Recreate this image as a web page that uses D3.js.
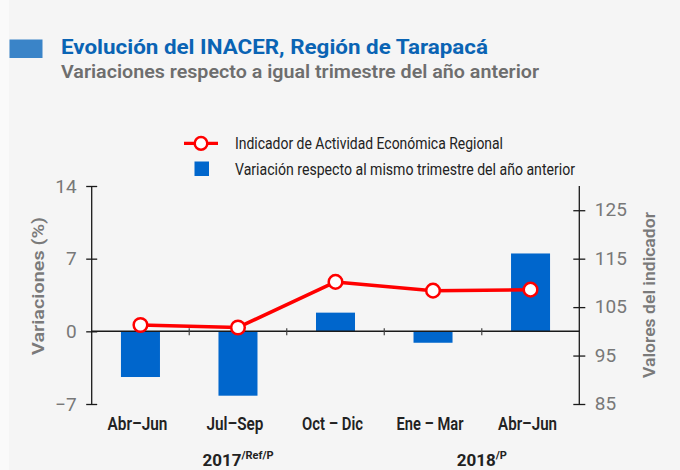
<!DOCTYPE html>
<html>
<head>
<meta charset="utf-8">
<script src="https://cdn.jsdelivr.net/npm/d3@7/dist/d3.min.js"></script>
<style>
  html, body { margin: 0; padding: 0; background: #f5f5f5; }
  svg { display: block; font-family: Roboto, "Noto Sans", sans-serif; }
</style>
</head>
<body>
<svg id="chart" width="680" height="470"></svg>
<script>
// ---- data ----
const categories = ["Abr–Jun", "Jul–Sep", "Oct – Dic", "Ene – Mar", "Abr–Jun"];
const variation = [-4.4, -6.2, 1.8, -1.1, 7.5];          // % (bars, left axis)
const indicator = [101.3, 100.8, 110.2, 108.4, 108.6];   // index (line, right axis)
const leftTicks = [-7, 0, 7, 14];
const rightTicks = [85, 95, 105, 115, 125];
const yearLabels = ["2017", "2018"];
const yearSups = ["/Ref/P", "/P"];
const yearFirstCat = [0, 3];
const yearLastCat = [2, 4];
const seriesNames = ["Indicador de Actividad Económica Regional", "Variación respecto al mismo trimestre del año anterior"];
const titleText = "Evolución del INACER, Región de Tarapacá";
const subtitleText = "Variaciones respecto a igual trimestre del año anterior";
const leftAxisTitle = "Variaciones (%)";
const rightAxisTitle = "Valores del indicador";

// ---- layout ----
const svg = d3.select("#chart");
const W = 680, H = 470;
const plotL = 91.7, plotR = 579.3, plotT = 186, plotB = 404;
const barColor = "#0066cc", lineColor = "#ff0000";

svg.append("rect").attr("width", W).attr("height", H).attr("fill", "#f5f5f5");
svg.append("rect").attr("width", 9).attr("height", H).attr("fill", "#fafafa");

const x = d3.scaleBand().domain(d3.range(categories.length)).range([plotL, plotR])
  .paddingInner(0.6).paddingOuter(0.3);
const yL = d3.scaleLinear().domain([-7, 14]).range([plotB, plotT]);
const yR = d3.scaleLinear().domain([85, 130]).range([plotB, plotT]);
const cx = i => x(i) + x.bandwidth() / 2;

function fit(sel, w) { sel.attr("textLength", w).attr("lengthAdjust", "spacingAndGlyphs"); return sel; }

// ---- title ----
svg.append("rect").attr("x", 9.5).attr("y", 39.5).attr("width", 33).attr("height", 18.5).attr("fill", "#3a84c8");
fit(svg.append("text").attr("x", 61).attr("y", 54).attr("font-size", 21).attr("font-weight", 700)
  .attr("fill", "#0a64b4").text(titleText), 427);
fit(svg.append("text").attr("x", 61).attr("y", 78).attr("font-size", 19).attr("font-weight", 600)
  .attr("fill", "#6e6e6e").text(subtitleText), 478);

// ---- legend ----
const lg = svg.append("g");
lg.append("line").attr("x1", 184).attr("x2", 218).attr("y1", 143.4).attr("y2", 143.4)
  .attr("stroke", lineColor).attr("stroke-width", 3.2);
lg.append("circle").attr("cx", 201).attr("cy", 143.4).attr("r", 6.3)
  .attr("fill", "#fff").attr("stroke", lineColor).attr("stroke-width", 2.5);
fit(lg.append("text").attr("x", 235).attr("y", 149.3).attr("font-size", 17).attr("fill", "#222").text(seriesNames[0]), 268);
lg.append("rect").attr("x", 194.5).attr("y", 161.5).attr("width", 14.5).attr("height", 14.5).attr("fill", barColor);
fit(lg.append("text").attr("x", 235).attr("y", 174.5).attr("font-size", 17).attr("fill", "#222").text(seriesNames[1]), 340);

// ---- bars ----
svg.append("g").selectAll("rect").data(variation).join("rect")
  .attr("x", (d, i) => x(i))
  .attr("width", x.bandwidth())
  .attr("y", d => yL(Math.max(0, d)))
  .attr("height", d => Math.abs(yL(d) - yL(0)))
  .attr("fill", barColor);

// ---- axes ----
const axisColor = "#1a1a1a";
// left axis
const gL = svg.append("g").attr("transform", `translate(${plotL},0)`)
  .call(d3.axisLeft(yL).tickValues(leftTicks).tickSize(0).tickFormat(d3.format("d")));
gL.select(".domain").remove();
gL.append("line").attr("y1", plotT).attr("y2", plotB).attr("stroke", axisColor).attr("stroke-width", 1.3);
gL.selectAll(".tick").append("line").attr("x1", -5.5).attr("x2", 5.5).attr("stroke", axisColor).attr("stroke-width", 1.3);
gL.selectAll(".tick text").attr("x", -15).attr("dy", "0.32em").attr("font-size", 19)
  .attr("fill", "#787878").attr("font-family", "Roboto, sans-serif");

// right axis
const gR = svg.append("g").attr("transform", `translate(${plotR},0)`)
  .call(d3.axisRight(yR).tickValues(rightTicks).tickSize(0).tickFormat(d3.format("d")));
gR.select(".domain").remove();
gR.append("line").attr("y1", plotT).attr("y2", plotB).attr("stroke", axisColor).attr("stroke-width", 1.3);
gR.selectAll(".tick").append("line").attr("x1", -6).attr("x2", 6).attr("stroke", axisColor).attr("stroke-width", 1.3);
gR.selectAll(".tick text").attr("x", 15.5).attr("dy", "0.3em").attr("font-size", 19)
  .attr("fill", "#787878").attr("font-family", "Roboto, sans-serif");

// zero line and category separators
svg.append("line").attr("x1", plotL).attr("x2", plotR).attr("y1", yL(0)).attr("y2", yL(0))
  .attr("stroke", axisColor).attr("stroke-width", 1.5);
svg.append("g").selectAll("line").data(d3.range(1, categories.length)).join("line")
  .attr("x1", i => x(i) - x.step() * x.paddingInner() / 2)
  .attr("x2", i => x(i) - x.step() * x.paddingInner() / 2)
  .attr("y1", yL(0) - 3).attr("y2", yL(0) + 4)
  .attr("stroke", "#444").attr("stroke-width", 1.2);

// category labels
svg.append("g").selectAll("text").data(categories).join("text")
  .attr("x", (d, i) => cx(i) - 3).attr("y", 430)
  .attr("text-anchor", "middle").attr("font-size", 18).attr("font-weight", 600).attr("fill", "#222")
  .attr("textLength", (d, i) => [60, 57, 61, 67, 59][i]).attr("lengthAdjust", "spacingAndGlyphs")
  .text(d => d);

// year labels
yearLabels.forEach((y, k) => {
  const mid = (cx(yearFirstCat[k]) + cx(yearLastCat[k])) / 2;
  const t = svg.append("text").attr("y", 466).attr("text-anchor", "middle").attr("fill", "#222").attr("font-weight", 700);
  t.append("tspan").attr("font-size", 17).text(y);
  t.append("tspan").attr("font-size", 11).attr("dy", -7).text(yearSups[k]);
  t.attr("x", mid);
});

// axis titles
fit(svg.append("text").attr("transform", "translate(44,286) rotate(-90)").attr("text-anchor", "middle")
  .attr("font-size", 17).attr("font-weight", 600).attr("fill", "#7a7a7a").text(leftAxisTitle), 138);
fit(svg.append("text").attr("transform", "translate(655,295) rotate(-90)").attr("text-anchor", "middle")
  .attr("font-size", 17).attr("font-weight", 600).attr("fill", "#7a7a7a").text(rightAxisTitle), 166);

// ---- line ----
const line = d3.line().x((d, i) => cx(i)).y(d => yR(d));
svg.append("path").datum(indicator).attr("d", line).attr("fill", "none")
  .attr("stroke", lineColor).attr("stroke-width", 3.5).attr("stroke-linejoin", "round");
svg.append("g").selectAll("circle").data(indicator).join("circle")
  .attr("cx", (d, i) => cx(i)).attr("cy", d => yR(d)).attr("r", 6.8)
  .attr("fill", "#fff").attr("stroke", lineColor).attr("stroke-width", 2.5);
</script>
</body>
</html>
